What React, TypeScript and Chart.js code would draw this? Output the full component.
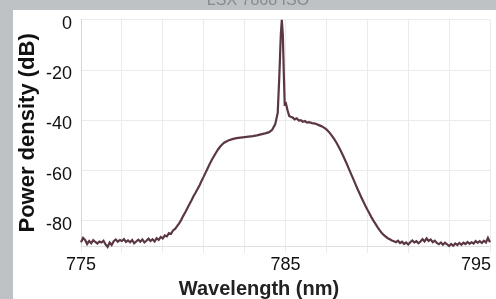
import React, { useEffect, useRef } from 'react';
import { Chart, registerables } from 'chart.js';

Chart.register(...registerables);

const chartTitle = 'LSX 7868 ISO';
const xAxisTitle = 'Wavelength (nm)';
const yAxisTitle = 'Power density (dB)';

const xGridTicks = [775, 777, 779, 781, 783, 785, 787, 789, 791, 793, 795];
const xLabeledTicks = [775, 785, 795];
const yTicks = [-80, -60, -40, -20, 0];

const wavelengthNm = [
  775.0, 775.1, 775.2, 775.3, 775.4, 775.5, 775.6, 775.7, 775.8, 775.9,
  776.0, 776.1, 776.2, 776.3, 776.4, 776.5, 776.6, 776.7, 776.8, 776.9,
  777.0, 777.1, 777.2, 777.3, 777.4, 777.5, 777.6, 777.7, 777.8, 777.9,
  778.0, 778.1, 778.2, 778.3, 778.4, 778.5, 778.6, 778.7, 778.8, 778.9,
  779.0, 779.1, 779.2, 779.3, 779.4, 779.5, 779.6, 779.7, 779.8, 779.9,
  780.0, 780.1, 780.2, 780.3, 780.4, 780.5, 780.6, 780.7, 780.8, 780.9,
  781.0, 781.1, 781.2, 781.3, 781.4, 781.5, 781.6, 781.7, 781.8, 781.9,
  782.0, 782.2, 782.4, 782.6, 782.8, 783.0, 783.2, 783.4, 783.6, 783.8, 784.0, 784.2, 784.35, 784.5,
  784.62, 784.7, 784.77, 784.82, 784.87, 784.92, 784.96, 785.02, 785.1, 785.18,
  785.25, 785.35, 785.45, 785.55, 785.65, 785.75, 785.85, 785.95, 786.05, 786.15, 786.3, 786.45, 786.6, 786.75, 786.9, 787.0,
  787.1, 787.2, 787.3, 787.4, 787.5, 787.6, 787.7, 787.8, 787.9, 788.0,
  788.1, 788.2, 788.3, 788.4, 788.5, 788.6, 788.7, 788.8, 788.9, 789.0,
  789.1, 789.2, 789.3, 789.4, 789.5, 789.6, 789.7, 789.8, 789.9, 790.0,
  790.1, 790.2, 790.3, 790.4,
  790.5, 790.6, 790.7, 790.8, 790.9, 791.0, 791.1, 791.2, 791.3, 791.4,
  791.5, 791.6, 791.7, 791.8, 791.9, 792.0, 792.1, 792.2, 792.3, 792.4,
  792.5, 792.6, 792.7, 792.8, 792.9, 793.0, 793.1, 793.2, 793.3, 793.4,
  793.5, 793.6, 793.7, 793.8, 793.9, 794.0, 794.1, 794.2, 794.3, 794.4,
  794.5, 794.6, 794.7, 794.8, 794.9, 795.0,
];

const powerDb = [
  -88.5, -86.8, -87.6, -89.2, -88.0, -88.9, -87.7, -88.4, -89.0, -88.2,
  -88.6, -87.9, -89.4, -90.4, -88.6, -89.6, -88.1, -87.4, -88.3, -87.6,
  -88.0, -87.3, -88.4, -87.8, -88.5, -87.6, -88.9, -88.2, -87.5, -88.3,
  -87.4, -88.6, -87.9, -87.1, -88.0, -87.3, -88.2, -86.9, -87.6, -86.4,
  -87.0, -85.8, -86.2, -84.9, -85.2, -83.8, -83.2, -82.1, -81.0, -79.6,
  -78.0, -76.6, -75.0, -73.4, -71.9, -70.2, -68.8, -67.3, -65.8, -64.0,
  -62.4, -60.7, -59.0, -57.3, -55.7, -54.3, -52.9, -51.6, -50.5, -49.6,
  -48.9, -48.0, -47.5, -47.1, -46.9, -46.7, -46.5, -46.3, -46.0, -45.6, -45.2, -44.7, -43.8, -41.5,
  -37.0, -22.0, -6.0, 0.0, -6.0, -22.0, -33.5, -33.2, -36.0, -38.3,
  -38.6, -38.9, -39.6, -39.2, -40.1, -39.9, -40.6, -40.3, -40.9, -40.7, -41.1, -41.3, -41.8, -42.3, -43.0, -43.6,
  -44.4, -45.4, -46.5, -47.7, -49.0, -50.5, -52.1, -53.8, -55.6, -57.4,
  -59.3, -61.2, -63.1, -65.0, -66.9, -68.7, -70.5, -72.2, -73.9, -75.5,
  -77.0, -78.5, -79.9, -81.2, -82.5, -83.7, -84.7, -85.6, -86.3, -86.9,
  -87.3, -87.8, -88.1, -88.5,
  -87.9, -88.8, -88.3, -89.2, -88.6, -89.4, -88.5, -87.8, -88.6, -88.1,
  -88.9, -88.2, -87.3, -88.2, -87.0, -88.0, -87.4, -88.5, -87.9, -88.8,
  -89.3, -88.6, -89.5, -88.7, -89.3, -90.0, -89.2, -89.9, -89.0, -89.6,
  -88.8, -89.5, -88.7, -89.2, -88.4, -89.1, -88.5, -89.0, -88.0, -88.7,
  -88.1, -88.8, -87.9, -88.6, -86.8, -88.5,
];

const FONT = '"Liberation Sans", Arial, Helvetica, sans-serif';
const TICK_SIZE = 18;
const X_TICK_LEN = 7;
const X_TICK_PAD = 1;

const framePlugin = {
  id: 'frame',
  beforeDraw(chart: any) {
    const ctx = chart.ctx;
    ctx.save();
    ctx.fillStyle = '#bec2c5';
    ctx.fillRect(0, 0, chart.width, chart.height);
    ctx.fillStyle = '#ffffff';
    ctx.fillRect(13, 10, chart.width - 13, chart.height - 10);
    ctx.fillStyle = '#878b8f';
    ctx.font = `16px ${FONT}`;
    ctx.textAlign = 'center';
    ctx.textBaseline = 'alphabetic';
    ctx.fillText(chartTitle, 258, 5);
    ctx.restore();
  },
  afterDraw(chart: any) {
    const ctx = chart.ctx;
    const xs = chart.scales.x;
    ctx.save();
    // x axis title
    ctx.fillStyle = '#222222';
    ctx.font = `bold 20px ${FONT}`;
    ctx.textAlign = 'center';
    ctx.textBaseline = 'alphabetic';
    ctx.fillText(xAxisTitle, 259, 295);
    // last x tick label, right-aligned to its tick
    const last = xLabeledTicks[xLabeledTicks.length - 1];
    ctx.fillStyle = '#111111';
    ctx.font = `${TICK_SIZE}px ${FONT}`;
    ctx.textAlign = 'right';
    ctx.textBaseline = 'middle';
    ctx.fillText(String(last), xs.getPixelForValue(last) + 1, xs.top + X_TICK_LEN + X_TICK_PAD + (TICK_SIZE * 1.2) / 2);
    ctx.restore();
  },
};

export default function App() {
  const canvasRef = useRef<HTMLCanvasElement | null>(null);

  useEffect(() => {
    if (!canvasRef.current) return;
    Chart.defaults.font.family = FONT;
    const last = xLabeledTicks[xLabeledTicks.length - 1];
    const chart = new Chart(canvasRef.current, {
      type: 'line',
      data: {
        datasets: [
          {
            data: wavelengthNm.map((x, i) => ({ x, y: powerDb[i] })),
            borderColor: '#5b3746',
            borderWidth: 2.2,
            pointRadius: 0,
            tension: 0,
            fill: false,
            clip: 4,
          },
        ],
      },
      options: {
        animation: false,
        responsive: false,
        layout: { padding: { left: 13, right: 6, top: 17, bottom: 0 } },
        plugins: {
          legend: { display: false },
          tooltip: { enabled: false },
          title: { display: false },
        },
        scales: {
          x: {
            type: 'linear',
            min: 775,
            max: 795,
            afterBuildTicks: (s: any) => {
              s.ticks = xGridTicks.map((v) => ({ value: v }));
            },
            afterFit: (s: any) => {
              s.height = 53;
            },
            grid: { color: '#ebebeb', lineWidth: 1, tickLength: X_TICK_LEN, drawTicks: true },
            border: { display: true, color: '#e0e0e0' },
            ticks: {
              autoSkip: false,
              maxRotation: 0,
              padding: X_TICK_PAD,
              color: '#111111',
              font: { size: TICK_SIZE },
              callback: (v: any) => (xLabeledTicks.includes(v) && v !== last ? String(v) : ''),
            },
          },
          y: {
            type: 'linear',
            min: -90,
            max: 0,
            afterBuildTicks: (s: any) => {
              s.ticks = yTicks.map((v) => ({ value: v }));
            },
            afterFit: (s: any) => {
              s.width = 68;
            },
            grid: { color: '#ebebeb', lineWidth: 1, drawTicks: false },
            border: { display: true, color: '#d6d6d6' },
            ticks: {
              padding: 9,
              labelOffset: 4,
              color: '#111111',
              font: { size: TICK_SIZE },
              callback: (v: any) => String(v),
            },
            title: {
              display: true,
              text: yAxisTitle,
              color: '#111111',
              font: { size: 22, weight: 'bold' },
              padding: { top: 2, bottom: 0 },
            },
          },
        },
      },
      plugins: [framePlugin],
    } as any);
    return () => chart.destroy();
  }, []);

  return (
    <div style={{ position: 'fixed', left: 0, top: 0, width: 496, height: 299 }}>
      <canvas ref={canvasRef} width={496} height={299} style={{ display: 'block', width: 496, height: 299 }} />
    </div>
  );
}
